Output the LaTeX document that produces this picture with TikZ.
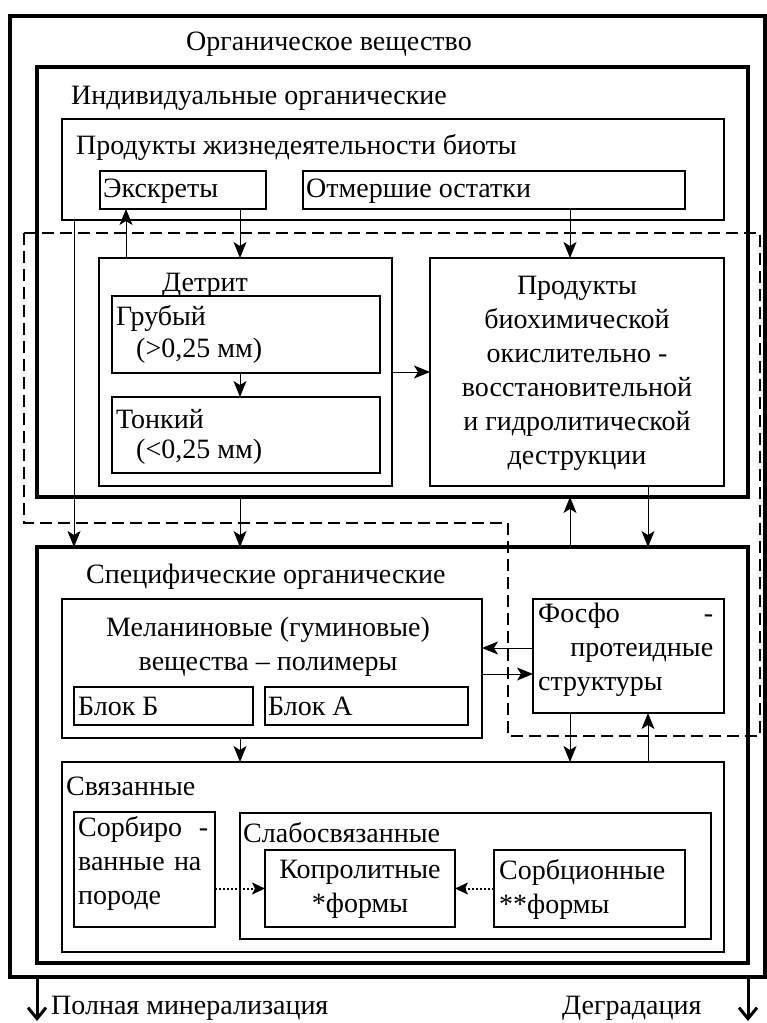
\documentclass[tikz,border=0pt]{standalone}
\usepackage{fontspec}
\setmainfont{Liberation Serif}
\usetikzlibrary{arrows.meta}
\tikzstyle{box}=[draw,rectangle,anchor=north west,inner sep=0pt,outer sep=0pt]
\tikzstyle{thickbox}=[box,line width=3.5pt]
\tikzstyle{midbox}=[box,line width=2pt]
\tikzstyle{thinbox}=[box,line width=1.5pt]
\tikzstyle{label}=[anchor=west,inner sep=0pt]
\tikzstyle{arr}=[line width=1pt,-{Stealth[length=16pt,width=13pt,inset=4pt]}]
\tikzstyle{dotarr}=[line width=2pt,dotted,-{Stealth[length=13pt,width=12pt,inset=3pt]}]
\tikzstyle{bigarr}=[line width=3pt,-{Straight Barb[length=11pt,width=18pt]}]
\tikzstyle{zone}=[line width=2pt,dash pattern=on 12pt off 6pt]

\begin{document}
\begin{tikzpicture}[x=1pt,y=-1pt,every node/.style={font=\fontsize{28}{34}\selectfont}]
  \useasboundingbox (0,0) rectangle (767,1023);

  % columns for the vertical connectors
  \coordinate (c74) at (74,0);
  \coordinate (c126) at (126,0);
  \coordinate (c240) at (240,0);
  \coordinate (c570) at (570,0);
  \coordinate (c648) at (648,0);
  \coordinate (r648) at (0,648);
  \coordinate (r674) at (0,674);
  \coordinate (outL) at (37,1021);
  \coordinate (outR) at (748,1021);

  % frames
  \node[thickbox,minimum width=755,minimum height=961] (outer) at (10,16) {};
  \node[label] (tOuter) at (186,44) {Органическое вещество};

  \node[thickbox,minimum width=711,minimum height=430] (A) at (37,67) {};
  \node[label] (tA) at (71,98) {Индивидуальные органические};

  \node[midbox,minimum width=662,minimum height=101] (B) at (62,119) {};
  \node[label] (tB) at (76,147) {Продукты жизнедеятельности биоты};
  \node[thinbox,minimum width=166,minimum height=38] (C) at (100,171) {};
  \node[label] (tC) at (103,191) {Экскреты};
  \node[thinbox,minimum width=382,minimum height=38] (D) at (303,171) {};
  \node[label] (tD) at (306,191) {Отмершие остатки};

  % zone of the dashed line
  \draw[zone] (24,233) -- (760,233) -- (760,736) -- (508,736) -- (508,523) -- (24,523) -- cycle;

  \node[box,line width=2.5pt,minimum width=293,minimum height=228] (E) at (99,258) {};
  \node[anchor=center,inner sep=0pt] (tE) at (205,285) {Детрит};
  \node[thinbox,minimum width=268,minimum height=77] (F) at (112,296) {};
  \node[label] (tF1) at (116,318) {Грубый};
  \node[label] (tF2) at (136,351) {(>0,25 мм)};
  \node[thinbox,minimum width=268,minimum height=76] (G) at (112,397) {};
  \node[label] (tG1) at (116,419) {Тонкий};
  \node[label] (tG2) at (136,452) {(<0,25 мм)};

  \node[box,line width=2.5pt,minimum width=294,minimum height=228] (H) at (430,258) {};
  \node[align=center,inner sep=0pt] (tH) at (577,373)
    {Продукты\\биохимической\\окислительно -\\восстановительной\\и гидролитической\\деструкции};

  \node[thickbox,minimum width=711,minimum height=416] (I) at (37,547) {};
  \node[label] (tI) at (86,577) {Специфические органические};

  \node[midbox,minimum width=420,minimum height=139] (J) at (62,599) {};
  \node[align=center,inner sep=0pt] (tJ) at (268,647) {Меланиновые (гуминовые)\\вещества -- полимеры};
  \node[thinbox,minimum width=179,minimum height=38] (K) at (74,687) {};
  \node[label] (tK) at (78,706) {Блок Б};
  \node[thinbox,minimum width=203,minimum height=38] (L) at (265,687) {};
  \node[label] (tL) at (268,706) {Блок А};

  \node[midbox,minimum width=191,minimum height=114] (M) at (533,599) {};
  \node[anchor=north west,inner sep=0pt,text width=175,align=left] (tM) at (538,603)
    {Фосфо\hfill-\\\hfill протеидные\\структуры};

  \node[midbox,minimum width=662,minimum height=190] (N) at (62,762) {};
  \node[label] (tN) at (66,786) {Связанные};
  \node[thinbox,minimum width=141,minimum height=115] (O) at (74,812) {};
  \node[anchor=north west,inner sep=0pt,text width=130,align=left] (tO) at (78,816)
    {Сорбиро\hfill-\\ванные на\\породе};
  \node[thinbox,minimum width=471,minimum height=126] (P) at (240,813) {};
  \node[label] (tP) at (243,833) {Слабосвязанные};
  \node[thinbox,minimum width=190,minimum height=77] (Q) at (265,850) {};
  \node[align=center,inner sep=0pt] (tQ) at (360,889) {Копролитные\\*формы};
  \node[thinbox,minimum width=191,minimum height=77] (R) at (494,850) {};
  \node[anchor=west,align=left,inner sep=0pt] (tR) at (499,889) {Сорбционные\\**формы};

  \node[label] (tLoss) at (51,1008) {Полная минерализация};
  \node[label] (tOut) at (562,1008) {Деградация};

  % connectors
  \draw[arr] (B.south -| c74) -- (I.north -| c74);
  \draw[arr] (E.north -| c126) -- (C.south -| c126);
  \draw[arr] (C.south -| c240) -- (E.north -| c240);
  \draw[arr] (D.south -| c570) -- (H.north -| c570);
  \draw[arr] (F.south -| c240) -- (G.north -| c240);
  \draw[arr] (E.east) -- (H.west);
  \draw[arr] (A.south -| c240) -- (I.north -| c240);
  \draw[arr] (I.north -| c570) -- (A.south -| c570);
  \draw[arr] (H.south -| c648) -- (I.north -| c648);
  \draw[arr] (M.west |- r648) -- (J.east |- r648);
  \draw[arr] (J.east |- r674) -- (M.west |- r674);
  \draw[arr] (J.south -| c240) -- (N.north -| c240);
  \draw[arr] (M.south -| c570) -- (N.north -| c570);
  \draw[arr] (N.north -| c648) -- (M.south -| c648);
  \draw[dotarr] (O.east |- Q.west) -- (Q.west);
  \draw[dotarr] (R.west) -- (Q.east);
  \draw[bigarr] (outer.south -| outL) -- (outL);
  \draw[bigarr] (outer.south -| outR) -- (outR);
\end{tikzpicture}
\end{document}
